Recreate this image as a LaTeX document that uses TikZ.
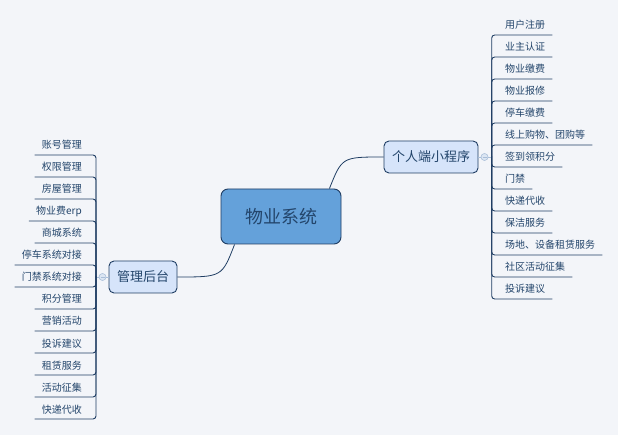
\documentclass[tikz,border=0pt]{standalone}
\usepackage{fontspec}
\setmainfont{Noto Sans CJK SC}
\usetikzlibrary{calc}
\definecolor{bg}{HTML}{F3F5F9}
\definecolor{ink}{HTML}{1F3D63}
\definecolor{txt}{HTML}{23456B}
\definecolor{rootfill}{HTML}{64A1DA}
\definecolor{subfill}{HTML}{D6E4FA}
\definecolor{knobfill}{HTML}{DCE6F3}
\definecolor{knobline}{HTML}{A9BED8}
\tikzset{
  rootbox/.style={draw=ink, line width=0.9pt, fill=rootfill, rounded corners=7pt,
    minimum width=120pt, minimum height=55pt, inner sep=0pt, text=txt, font=\fontsize{18}{20}\selectfont},
  subbox/.style={draw=ink, line width=0.9pt, fill=subfill, rounded corners=5pt,
    minimum height=32pt, inner sep=0pt, text=txt, font=\fontsize{13}{15}\selectfont},
  leafr/.style={anchor=base west, inner sep=0pt, text=txt, font=\fontsize{10}{12}\selectfont},
  leafl/.style={anchor=base east, inner sep=0pt, text=txt, font=\fontsize{10}{12}\selectfont},
  branch/.style={draw=ink, line width=0.9pt, rounded corners=3pt},
  curve/.style={draw=ink, line width=0.8pt},
  knob/.style={circle, draw=knobline, fill=knobfill, line width=0.6pt, minimum size=7pt, inner sep=0pt},
}
\begin{document}
\begin{tikzpicture}[x=1pt,y=-1pt]
\fill[bg] (0,0) rectangle (618,435);
\useasboundingbox (0,0) rectangle (618,435);

\node[rootbox] (root) at (281,216.5) {物业系统};
\node[subbox, minimum width=68pt] (admin) at (143,277) {管理后台};
\node[subbox, minimum width=94pt] (app) at (431,157) {个人端小程序};

\draw[curve] (root.south west) ++(14pt,0) coordinate (rl)
  (rl) .. controls (222,277) .. (admin.east);
\draw[curve] (root.north east) ++(-12pt,0) coordinate (rr)
  (rr) .. controls (342,157) .. (app.west);

% knobs
\node[knob] (lk) at (102.5,277) {};
\node[knob] (rk) at (484.5,157) {};
\draw[knobline, line width=0.6pt] ($(lk.center)+(-2pt,0)$) -- ($(lk.center)+(2pt,0)$);
\draw[knobline, line width=0.6pt] ($(rk.center)+(-2pt,0)$) -- ($(rk.center)+(2pt,0)$);
\coordinate (lj) at (96,277);
\coordinate (rj) at (491.7,157);
\draw[knobline, line width=0.6pt] (admin.west) -- (lk.east);
\draw[knobline, line width=0.6pt] (app.east) -- (rk.west);
\draw[knobline, line width=0.6pt] (lk.west) -- (lj);
\draw[knobline, line width=0.6pt] (rk.east) -- (rj);

% right leaves
\foreach \t [count=\k from 0] in {用户注册,业主认证,物业缴费,物业报修,停车缴费,线上购物、团购等,签到领积分,门禁,快递代收,保洁服务,场地、设备租赁服务,社区活动征集,投诉建议}{
  \pgfmathsetmacro{\yy}{35+22*\k-6}
  \node[leafr] (r\k) at (505,\yy) {\t};
  \draw[branch] (rj) |- ($(r\k.base east)+(7pt,-6pt)$);
}

% left leaves
\foreach \t [count=\k from 0] in {账号管理,权限管理,房屋管理,物业费erp,商城系统,停车系统对接,门禁系统对接,积分管理,营销活动,投诉建议,租赁服务,活动征集,快递代收}{
  \pgfmathsetmacro{\yy}{155+22*\k-6}
  \node[leafl] (l\k) at (82,\yy) {\t};
  \draw[branch] (lj) |- ($(l\k.base west)+(-7pt,-6pt)$);
}
\end{tikzpicture}
\end{document}
